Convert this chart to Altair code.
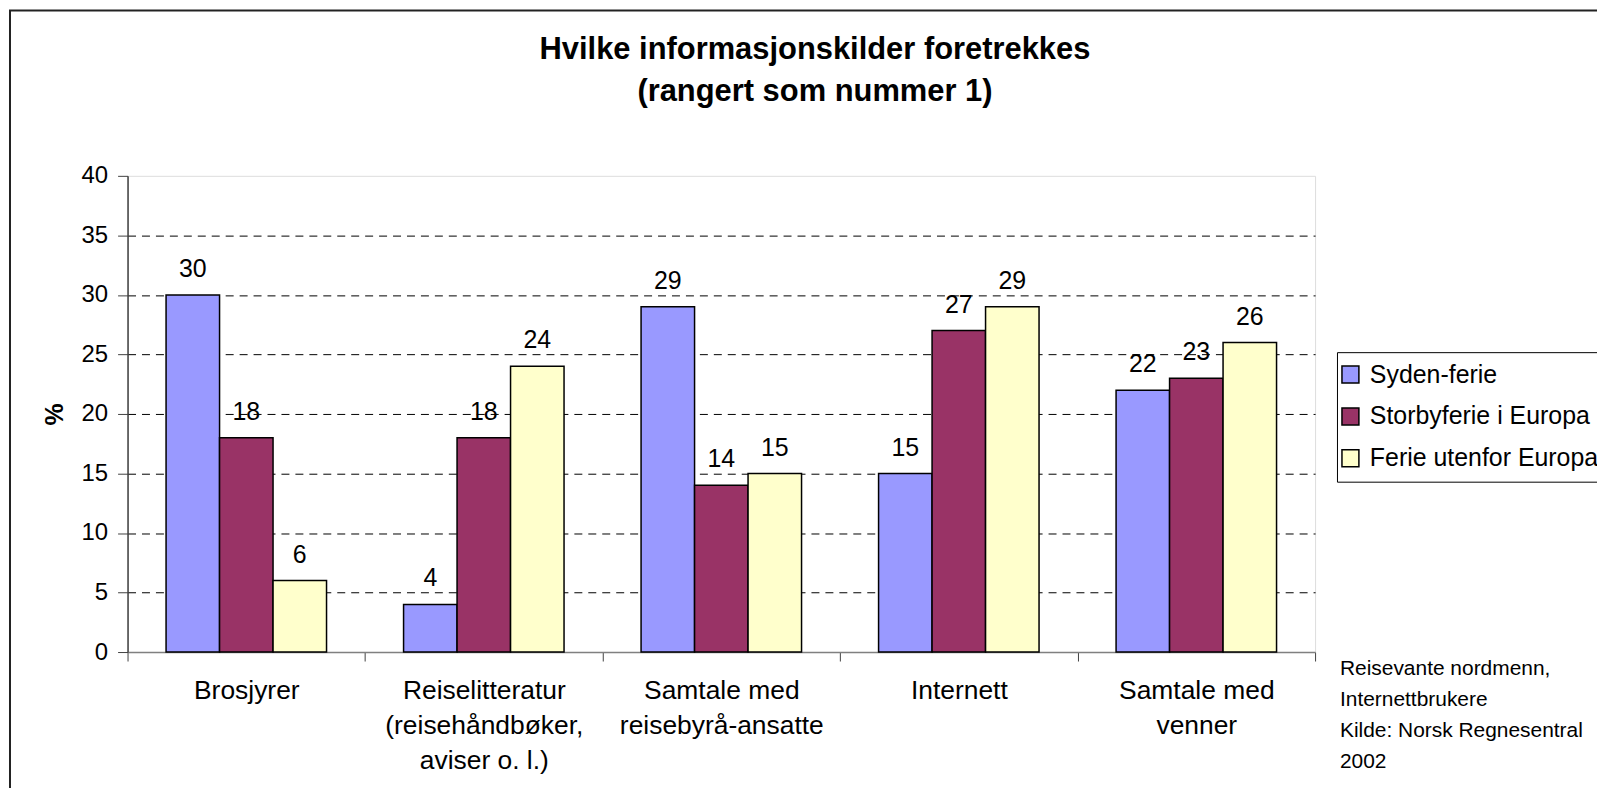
import altair as alt
import pandas as pd

categories = [
    "Brosjyrer",
    "Reiselitteratur\n(reisehåndbøker,\naviser o. l.)",
    "Samtale med\nreisebyrå-ansatte",
    "Internett",
    "Samtale med\nvenner",
]
series = ["Syden-ferie", "Storbyferie i Europa", "Ferie utenfor Europa"]
syden = [30, 4, 29, 15, 22]
storby = [18, 18, 14, 27, 23]
utenfor = [6, 24, 15, 29, 26]
colors = ["#9999FF", "#993366", "#FFFFCC"]
y_ticks = [0, 5, 10, 15, 20, 25, 30, 35, 40]
title_lines = ["Hvilke informasjonskilder foretrekkes", "(rangert som nummer 1)"]
y_title = "%"
note_lines = ["Reisevante nordmenn,", "Internettbrukere", "Kilde: Norsk Regnesentral", "2002"]

rows = []
for s, vals in zip(series, [syden, storby, utenfor]):
    for c, v in zip(categories, vals):
        rows.append({"kategori": c, "serie": s, "verdi": v})
df = pd.DataFrame(rows)

FONT = "Liberation Sans"

x_enc = alt.X(
    "kategori:N",
    sort=categories,
    scale=alt.Scale(paddingInner=0, paddingOuter=0),
    axis=alt.Axis(
        title=None,
        labelAngle=0,
        labelExpr="split(datum.label, '\\n')",
        labelFontSize=26.5,
        labelLineHeight=35,
        labelPadding=17,
        labelLimit=0,
        labelColor="black",
        labelFont=FONT,
        tickBand="extent",
        tickSize=9,
        tickColor="#404040",
        domainColor="#808080",
        domainWidth=1.5,
        grid=False,
    ),
)
xoff_enc = alt.XOffset(
    "serie:N", sort=series, scale=alt.Scale(paddingInner=0, paddingOuter=0.72)
)
y_enc = alt.Y(
    "verdi:Q",
    scale=alt.Scale(domain=[0, 40], nice=False),
    axis=alt.Axis(
        values=y_ticks,
        title=y_title,
        titleFontSize=25,
        titleFontWeight="bold",
        titleFont=FONT,
        titleColor="black",
        titlePadding=14,
        labelFontSize=24,
        labelFont=FONT,
        labelColor="black",
        labelPadding=10,
        tickSize=10,
        tickColor="#404040",
        domainColor="#404040",
        domainWidth=1.5,
        grid=True,
        gridColor="black",
        gridDash=[8, 6],
        gridWidth=1,
        gridOpacity=alt.condition("datum.value == 0 || datum.value == 40", alt.value(0), alt.value(1)),
    ),
)

base = alt.Chart(df)

bars = base.mark_bar(stroke="black", strokeWidth=1.5).encode(
    x=x_enc,
    xOffset=xoff_enc,
    y=y_enc,
    color=alt.Color(
        "serie:N",
        sort=series,
        scale=alt.Scale(domain=series, range=colors),
        legend=alt.Legend(
            orient="none",
            legendX=1214,
            legendY=177,
            title=None,
            labelFontSize=25,
            labelFont=FONT,
            labelColor="black",
            labelLimit=0,
            symbolType="square",
            symbolSize=289,
            symbolStrokeColor="black",
            symbolStrokeWidth=1.5,
            symbolOffset=-9,
            strokeColor="black",
            fillColor="white",
            padding=10,
            rowPadding=16,
            labelOffset=7,
        ),
    ),
)

labels = base.mark_text(
    baseline="alphabetic", dy=-18, fontSize=25, font=FONT, color="black"
).encode(
    x=x_enc,
    xOffset=xoff_enc,
    y=y_enc,
    text=alt.Text("verdi:Q"),
)

one_df = pd.DataFrame({"n": [0]})

title = alt.Chart(one_df).mark_text(
    text=title_lines,
    align="center",
    baseline="top",
    fontSize=31,
    fontWeight="bold",
    lineHeight=42,
    font=FONT,
    color="black",
).encode(x=alt.value(690), y=alt.value(-141))

note = alt.Chart(one_df).mark_text(
    text=note_lines,
    align="left",
    baseline="top",
    fontSize=21,
    lineHeight=31,
    font=FONT,
    color="black",
).encode(x=alt.value(1217), y=alt.value(484))

frame = alt.Chart(one_df).mark_rect(
    fill="white", fillOpacity=0, stroke="#222222", strokeWidth=2
).encode(x=alt.value(-118), x2=alt.value(1600), y=alt.value(-166), y2=alt.value(800))

chart = (
    alt.layer(bars, labels, title, note, frame)
    .properties(
        width=1192,
        height=478,
        autosize=alt.AutoSizeParams(type="none"),
        padding={"left": 120, "top": 167, "right": 283, "bottom": 135},
    )
    .configure_view(stroke="#808080", strokeWidth=1.5)
    .configure(background="white")
)

chart.save("out.html", embed_options={"renderer": "svg", "actions": False})
